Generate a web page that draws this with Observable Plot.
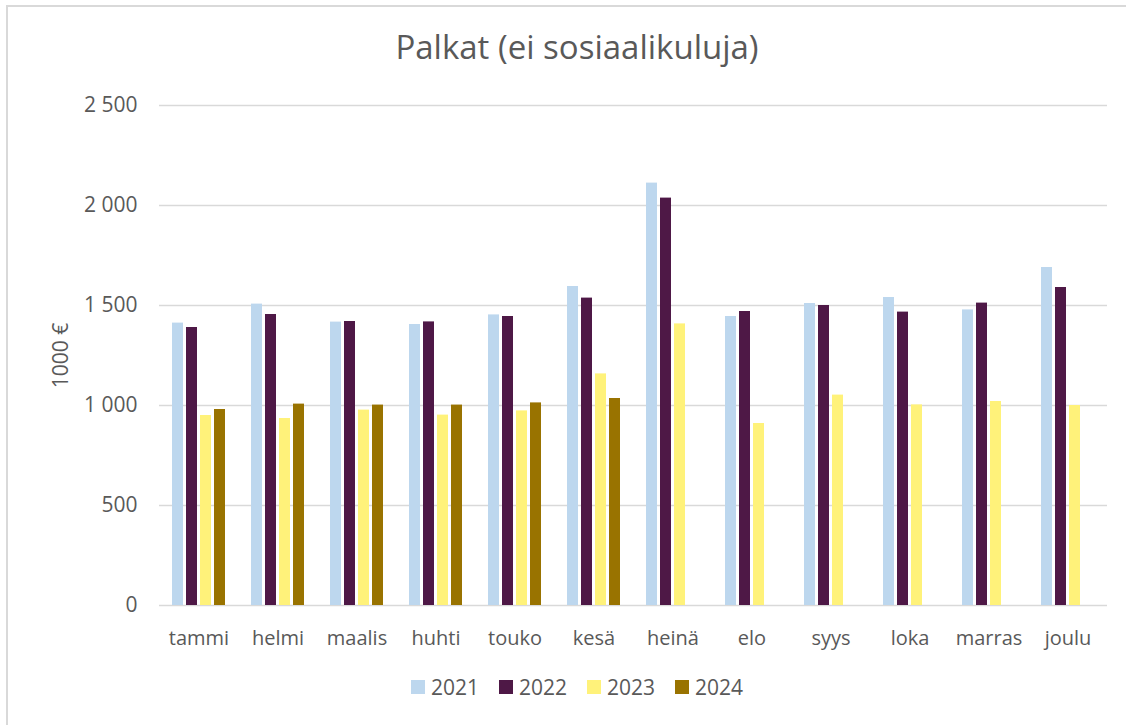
<!DOCTYPE html>
<html>
<head>
<meta charset="utf-8">
<script src="https://cdn.jsdelivr.net/npm/d3@7"></script>
<script src="https://cdn.jsdelivr.net/npm/@observablehq/plot@0.6"></script>
<style>
  html, body { margin: 0; padding: 0; background: #fff; }
  body { width: 1126px; height: 725px; position: relative; overflow: hidden; font-family: "Open Sans", sans-serif; color: #595959; }
  #frame { position: absolute; left: 6px; top: 5px; width: 1200px; height: 800px; border-top: 2px solid #d9d9d9; border-left: 2px solid #d9d9d9; pointer-events: none; }
  #title { height: 90px; box-sizing: border-box; padding-left: 28px; padding-top: 27px; text-align: center; font-size: 33px; line-height: 40px; color: #595959; }
  #chart svg { display: block; }
  #legend { display: flex; justify-content: center; padding-left: 28px; gap: 20px; margin-top: 8px; font-size: 21px; line-height: 28px; }
  .item { display: flex; align-items: center; gap: 6px; }
  .sw { width: 14px; height: 14px; display: inline-block; }
</style>
</head>
<body>
<div id="frame"></div>
<div id="title">Palkat (ei sosiaalikuluja)</div>
<div id="chart"></div>
<div id="legend"></div>
<script>
const months = ["tammi", "helmi", "maalis", "huhti", "touko", "kesä", "heinä", "elo", "syys", "loka", "marras", "joulu"];
const years = ["2021", "2022", "2023", "2024"];
const colors = ["#bdd7ee", "#4e1846", "#fff27a", "#997300"];
const v2021 = [1412, 1507, 1417, 1405, 1453, 1595, 2112, 1445, 1510, 1540, 1478, 1690];
const v2022 = [1390, 1455, 1420, 1418, 1445, 1537, 2037, 1470, 1500, 1467, 1512, 1590];
const v2023 = [950, 935, 977, 952, 973, 1158, 1408, 910, 1052, 1003, 1020, 1000];
const v2024 = [980, 1007, 1002, 1002, 1013, 1035];
const yTicks = [0, 500, 1000, 1500, 2000, 2500];

const series = [v2021, v2022, v2023, v2024];
const data = [];
series.forEach((vals, i) => vals.forEach((v, j) => data.push({month: months[j], year: years[i], value: v})));

const fmt = d3.formatLocale({decimal: ",", thousands: "\u00a0", grouping: [3], currency: ["", " €"]}).format(",");

const chart = Plot.plot({
  width: 1126,
  height: 575,
  marginTop: 15,
  marginBottom: 60,
  marginLeft: 157,
  marginRight: 17,
  style: {fontFamily: "'Open Sans', sans-serif", fontSize: "20px", color: "#595959", background: "transparent"},
  fx: {domain: months, padding: 0, label: null},
  x: {domain: years, paddingInner: 0.23, paddingOuter: 0.88, axis: null},
  y: {domain: [0, 2500]},
  color: {domain: years, range: colors},
  marks: [
    Plot.gridY(yTicks, {stroke: "#d9d9d9", strokeOpacity: 1, strokeWidth: 1.5}),
    Plot.barY(data, {fx: "month", x: "year", y: "value", fill: "year"}),
    Plot.axisY({ticks: yTicks, tickFormat: fmt, tickSize: 0, tickPadding: 22, fontSize: 21, label: "1000 €", labelAnchor: "center", labelOffset: 106, labelArrow: "none"}),
    Plot.axisFx({anchor: "bottom", tickSize: 0, tickPadding: 25, fontSize: 20, label: null})
  ]
});
document.getElementById("chart").appendChild(chart);

const legend = document.getElementById("legend");
years.forEach((y, i) => {
  const it = document.createElement("div");
  it.className = "item";
  const sw = document.createElement("span");
  sw.className = "sw";
  sw.style.background = colors[i];
  const t = document.createElement("span");
  t.textContent = y;
  it.appendChild(sw);
  it.appendChild(t);
  legend.appendChild(it);
});
</script>
</body>
</html>
